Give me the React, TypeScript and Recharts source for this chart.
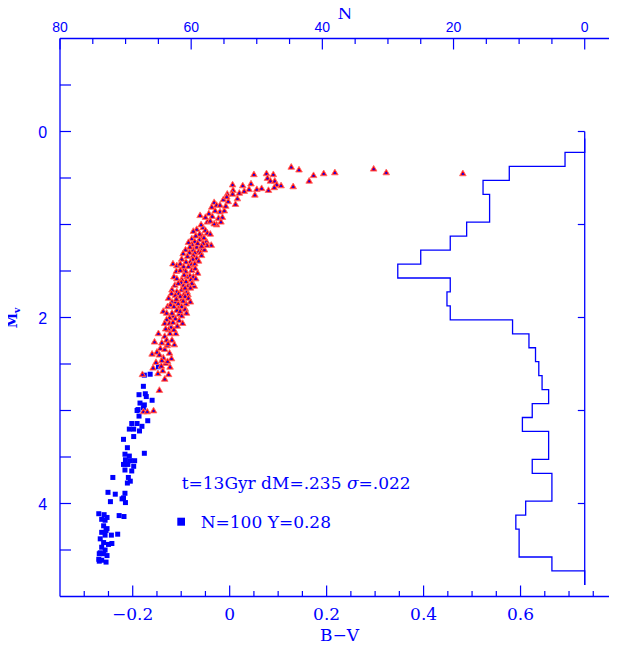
import React from "react";
import { ScatterChart, Scatter, XAxis, YAxis, ReferenceLine } from "recharts";

const BLUE = "#0000ff";
const RED = "#ff0000";
const SERIF = "'DejaVu Serif', serif";
const SANS = "'Liberation Sans', Arial, sans-serif";

// main-sequence stars [B-V, Mv]
const MS_STARS: [number, number][] = [
  [-0.176, 2.62], [-0.164, 2.61], [-0.147, 2.53], [-0.178, 2.74],
  [-0.187, 2.83], [-0.174, 2.82], [-0.172, 2.85], [-0.16, 2.89],
  [-0.185, 2.92], [-0.176, 2.94], [-0.189, 2.99], [-0.191, 3.0], [-0.178, 2.97],
  [-0.187, 3.06], [-0.169, 3.11], [-0.202, 3.14], [-0.191, 3.14], [-0.181, 3.17],
  [-0.207, 3.2], [-0.198, 3.2], [-0.186, 3.22], [-0.198, 3.28], [-0.219, 3.31],
  [-0.211, 3.4], [-0.176, 3.46], [-0.216, 3.47], [-0.207, 3.49],
  [-0.215, 3.53], [-0.196, 3.54], [-0.205, 3.54], [-0.219, 3.58], [-0.21, 3.58],
  [-0.198, 3.6], [-0.216, 3.64], [-0.202, 3.65], [-0.241, 3.72], [-0.209, 3.72],
  [-0.205, 3.76], [-0.211, 3.78], [-0.251, 3.88], [-0.236, 3.9], [-0.216, 3.89],
  [-0.219, 3.94], [-0.222, 3.95], [-0.215, 3.99], [-0.246, 3.98],
  [-0.27, 4.11], [-0.259, 4.12], [-0.253, 4.15], [-0.264, 4.17], [-0.257, 4.18],
  [-0.228, 4.13], [-0.218, 4.14], [-0.26, 4.24], [-0.253, 4.27], [-0.255, 4.29],
  [-0.264, 4.31], [-0.257, 4.34], [-0.244, 4.34], [-0.231, 4.33],
  [-0.267, 4.38], [-0.26, 4.42], [-0.25, 4.44], [-0.243, 4.43],
  [-0.264, 4.47], [-0.257, 4.5], [-0.267, 4.53], [-0.26, 4.54], [-0.253, 4.56],
  [-0.269, 4.54], [-0.27, 4.6], [-0.264, 4.61], [-0.255, 4.63], [-0.269, 4.62],
];

// subgiant / turnoff stars [B-V, Mv]
const EVOLVED_STARS: [number, number][] = [
  [0.127, 0.38], [0.143, 0.41], [0.173, 0.47], [0.194, 0.45], [0.217, 0.44],
  [0.164, 0.53], [0.297, 0.4], [0.323, 0.44], [0.481, 0.45],
  [0.05, 0.46], [0.076, 0.45], [0.09, 0.46], [0.078, 0.5], [0.084, 0.53],
  [0.093, 0.53], [0.097, 0.57], [0.106, 0.58], [0.092, 0.6], [0.131, 0.59], [0.08, 0.63],
  [0.044, 0.56], [0.027, 0.58], [0.006, 0.57], [0.04, 0.62], [0.056, 0.62],
  [0.066, 0.61], [0.052, 0.68], [0.007, 0.63], [-0.005, 0.67], [0.006, 0.67],
  [-0.013, 0.73], [-0.003, 0.75], [0.016, 0.72], [-0.032, 0.76], [-0.027, 0.79],
  [-0.037, 0.81], [-0.02, 0.86], [-0.011, 0.85], [-0.061, 0.9], [-0.043, 0.88],
  [-0.036, 0.91], [-0.023, 0.93], [-0.015, 0.92], [-0.046, 0.97], [-0.027, 1.0],
  [-0.032, 0.99], [-0.068, 1.05], [-0.055, 1.03], [-0.05, 1.06], [-0.046, 1.09],
  [-0.057, 1.12], [-0.075, 1.07], [-0.059, 1.0], [-0.04, 1.1],
  [-0.006, 0.7], [0.02, 0.66], [0.03, 0.64], [-0.02, 0.79], [-0.008, 0.8],
  [-0.03, 0.85], [-0.05, 0.92], [-0.04, 0.96], [-0.018, 0.97], [0.012, 0.78],
  [-0.078, 1.15], [-0.072, 1.18], [-0.062, 1.16], [-0.048, 1.18], [-0.038, 1.22],
  [-0.047, 1.22], [-0.055, 1.2], [-0.078, 1.21], [-0.068, 1.24], [-0.06, 1.26],
  [-0.075, 1.27], [-0.064, 1.29], [-0.091, 1.27], [-0.082, 1.24], [-0.052, 1.27],
  [-0.062, 1.1], [-0.07, 1.12], [-0.053, 1.14], [-0.066, 1.2], [-0.085, 1.19],
  [-0.058, 1.23], [-0.072, 1.3], [-0.083, 1.3], [-0.096, 1.31], [-0.06, 1.3],
  [-0.075, 1.33], [-0.068, 1.36], [-0.076, 1.37], [-0.064, 1.39], [-0.099, 1.37],
  [-0.087, 1.34], [-0.058, 1.33], [-0.117, 1.42], [-0.109, 1.44], [-0.102, 1.42],
  [-0.081, 1.4], [-0.09, 1.4], [-0.079, 1.43], [-0.093, 1.48], [-0.11, 1.5],
  [-0.095, 1.45], [-0.102, 1.49], [-0.072, 1.42], [-0.085, 1.45], [-0.078, 1.49],
  [-0.071, 1.47], [-0.091, 1.5], [-0.082, 1.55], [-0.075, 1.56], [-0.088, 1.56],
  [-0.066, 1.52], [-0.115, 1.56], [-0.109, 1.58], [-0.099, 1.59], [-0.094, 1.54],
  [-0.07, 1.58], [-0.08, 1.59], [-0.1, 1.62], [-0.113, 1.65], [-0.073, 1.66],
  [-0.106, 1.63], [-0.095, 1.65], [-0.085, 1.65], [-0.078, 1.63], [-0.09, 1.61],
  [-0.119, 1.7], [-0.109, 1.72], [-0.099, 1.7], [-0.088, 1.72], [-0.081, 1.68],
  [-0.092, 1.68], [-0.105, 1.74], [-0.12, 1.74], [-0.086, 1.75], [-0.098, 1.8],
  [-0.094, 1.75], [-0.102, 1.77], [-0.092, 1.77], [-0.085, 1.79], [-0.112, 1.76],
  [-0.126, 1.79], [-0.119, 1.83], [-0.112, 1.83], [-0.106, 1.85], [-0.081, 1.83],
  [-0.11, 1.8], [-0.09, 1.85], [-0.128, 1.88], [-0.106, 1.9], [-0.116, 1.98],
  [-0.096, 1.82], [-0.099, 1.88], [-0.092, 1.9], [-0.122, 1.86], [-0.115, 1.88],
  [-0.109, 1.92], [-0.104, 1.96], [-0.137, 1.93], [-0.13, 1.95], [-0.119, 1.95],
  [-0.099, 1.98], [-0.102, 1.93], [-0.092, 1.91], [-0.124, 2.0], [-0.112, 2.01],
  [-0.089, 1.95], [-0.13, 2.02], [-0.104, 2.03], [-0.121, 2.1], [-0.111, 2.17],
  [-0.134, 2.06], [-0.124, 2.06], [-0.117, 2.05], [-0.097, 2.06], [-0.108, 2.09],
  [-0.126, 2.13], [-0.123, 2.17], [-0.147, 2.17], [-0.115, 2.13], [-0.132, 2.12],
  [-0.134, 2.2], [-0.13, 2.24], [-0.119, 2.24], [-0.114, 2.29], [-0.14, 2.27],
  [-0.155, 2.26], [-0.143, 2.33], [-0.134, 2.34], [-0.129, 2.3], [-0.127, 2.28],
  [-0.124, 2.38], [-0.16, 2.39], [-0.15, 2.37], [-0.137, 2.43], [-0.14, 2.46],
  [-0.145, 2.4], [-0.132, 2.49], [-0.12, 2.44], [-0.152, 2.48], [-0.138, 2.57],
  [-0.128, 2.47], [-0.158, 2.54], [-0.123, 2.53], [-0.141, 2.52],
  [-0.18, 2.61], [-0.148, 2.6], [-0.126, 2.61], [-0.134, 2.66], [-0.145, 2.78],
  [-0.178, 3.01], [-0.17, 3.01], [-0.157, 3.0],
];

// Mv histogram (top axis N): lower bin edge and count
const HIST_EDGES = [
  0.075, 0.225, 0.375, 0.525, 0.675, 0.825, 0.975, 1.125, 1.275, 1.425, 1.575,
  1.725, 1.875, 2.025, 2.175, 2.325, 2.475, 2.625, 2.775, 2.925, 3.075, 3.225,
  3.375, 3.525, 3.675, 3.825, 3.975, 4.125, 4.275, 4.425, 4.575, 4.725,
];
const HIST_COUNTS = [
  0, 3, 11.5, 15.5, 14.5, 14.5, 18, 20.5, 25, 28.5, 20.5, 21, 20.5, 11, 8.5,
  7.5, 7, 6.5, 5.5, 8, 9.5, 5.5, 5.5, 8, 5, 5, 9, 10.5, 10, 10, 5, 0,
];
const HIST_BIN = 0.15;
const HIST_BASE_TICKS = [0, 1, 2, 3, 4];

const BV_TICKS = [
  -0.3, -0.25, -0.2, -0.15, -0.1, -0.05, 0, 0.05, 0.1, 0.15, 0.2, 0.25, 0.3,
  0.35, 0.4, 0.45, 0.5, 0.55, 0.6, 0.65, 0.7, 0.75,
];
const BV_LABELS = [-0.2, 0, 0.2, 0.4, 0.6];
const N_TICKS = [80, 75, 70, 65, 60, 55, 50, 45, 40, 35, 30, 25, 20, 15, 10, 5, 0];
const N_LABELS = [80, 60, 40, 20, 0];
const MV_TICKS = [-0.5, 0, 0.5, 1, 1.5, 2, 2.5, 3, 3.5, 4, 4.5];
const MV_LABELS = [0, 2, 4];

const near = (v: number, list: number[]) => list.some((b) => Math.abs(v - b) < 1e-6);
const fmtBV = (v: number) =>
  Math.abs(v) < 1e-9 ? "0" : (v < 0 ? "\u2212" : "") + Math.abs(v).toFixed(1);

function BottomTick(props: any) {
  const { x, y, payload } = props;
  const major = near(payload.value, BV_LABELS);
  return (
    <g>
      <line x1={x} y1={y} x2={x} y2={y - (major ? 11 : 5.5)} stroke={BLUE} strokeWidth={1.2} />
      {major && (
        <text x={x} y={y + 23.5} textAnchor="middle" fill={BLUE} fontFamily={SERIF} fontSize={17}>
          {fmtBV(payload.value)}
        </text>
      )}
    </g>
  );
}

function TopTick(props: any) {
  const { x, y, payload } = props;
  const major = near(payload.value, N_LABELS);
  return (
    <g>
      <line x1={x} y1={y} x2={x} y2={y + (major ? 11 : 5.5)} stroke={BLUE} strokeWidth={1.2} />
      {major && (
        <text x={x} y={y - 7} textAnchor="middle" fill={BLUE} fontFamily={SANS} fontSize={14}>
          {payload.value}
        </text>
      )}
    </g>
  );
}

function LeftTick(props: any) {
  const { x, y, payload } = props;
  return (
    <g>
      <line x1={x} y1={y} x2={x + 11} y2={y} stroke={BLUE} strokeWidth={1.2} />
      {near(payload.value, MV_LABELS) && (
        <text x={x - 12.8} y={y + 6} textAnchor="end" fill={BLUE} fontFamily={SANS} fontSize={16}>
          {payload.value}
        </text>
      )}
    </g>
  );
}

function RightTick(props: any) {
  const { x, y, payload } = props;
  const major = near(payload.value, MV_LABELS);
  return <line x1={x} y1={y} x2={x - (major ? 12 : 5)} y2={y} stroke={BLUE} strokeWidth={1.2} />;
}

const Triangle = (p: any) => (
  <g>
    <polygon
      points={`${p.cx - 3.3},${p.cy + 2.4} ${p.cx + 3.3},${p.cy + 2.4} ${p.cx},${p.cy - 3.3}`}
      fill={RED}
      stroke="#ff6a6a"
      strokeWidth={0.9}
      strokeLinejoin="round"
    />
    <rect x={p.cx - 0.9} y={p.cy - 0.3} width={1.8} height={1.8} fill={BLUE} />
  </g>
);

const Square = (p: any) => (
  <rect x={p.cx - 2.5} y={p.cy - 2.5} width={5} height={5} fill={BLUE} />
);

export default function App() {
  const msData = MS_STARS.map(([bv, mv]) => ({ bv, mv }));
  const evData = EVOLVED_STARS.map(([bv, mv]) => ({ bv, mv }));

  // step outline of the histogram
  const histData: { n: number; mv: number }[] = [];
  HIST_EDGES.forEach((lo, i) => {
    histData.push({ n: HIST_COUNTS[i], mv: lo });
    histData.push({ n: HIST_COUNTS[i], mv: lo + HIST_BIN });
  });
  const histTop = HIST_EDGES[HIST_EDGES.length - 1] + HIST_BIN;

  return (
    <div style={{ position: "relative", width: 609, height: 637 }}>
      <style>{"html,body{overflow:hidden}"}</style>
      <ScatterChart width={620} height={637} margin={{ top: 0, right: 0, bottom: 0, left: 0 }}>
        <XAxis
          xAxisId="bv"
          dataKey="bv"
          type="number"
          orientation="bottom"
          domain={[-0.35, 0.8]}
          ticks={BV_TICKS}
          interval={0}
          height={48.5}
          tickSize={0}
          tickMargin={0}
          tickLine={false}
          axisLine={{ stroke: BLUE, strokeWidth: 1.3 }}
          tick={BottomTick}
        />
        <XAxis
          xAxisId="n"
          dataKey="n"
          type="number"
          orientation="top"
          domain={[-5, 80]}
          reversed
          ticks={N_TICKS}
          interval={0}
          height={30.5}
          tickSize={0}
          tickMargin={0}
          tickLine={false}
          axisLine={{ stroke: BLUE, strokeWidth: 1.3 }}
          tick={TopTick}
        />
        <YAxis
          yAxisId="mv"
          dataKey="mv"
          type="number"
          orientation="left"
          domain={[-1, 5]}
          reversed
          ticks={MV_TICKS}
          interval={0}
          width={52}
          tickSize={0}
          tickMargin={0}
          tickLine={false}
          axisLine={{ stroke: BLUE, strokeWidth: 1.3 }}
          tick={LeftTick}
        />
        <YAxis
          yAxisId="r"
          type="number"
          orientation="right"
          domain={[-1, 5]}
          reversed
          ticks={MV_TICKS}
          interval={0}
          width={10.5}
          tickSize={0}
          tickMargin={0}
          tickLine={false}
          axisLine={{ stroke: BLUE, strokeWidth: 1.3 }}
          tick={RightTick}
        />
        <ReferenceLine
          xAxisId="n"
          yAxisId="mv"
          segment={[{ x: 0, y: 0 }, { x: 0, y: histTop }]}
          stroke={BLUE}
          strokeWidth={1.3}
        />
        {HIST_BASE_TICKS.map((m) => (
          <ReferenceLine
            key={m}
            xAxisId="n"
            yAxisId="mv"
            segment={[{ x: 0, y: m }, { x: 1.05, y: m }]}
            stroke={BLUE}
            strokeWidth={1.2}
          />
        ))}
        <Scatter
          xAxisId="n"
          yAxisId="mv"
          data={histData}
          line={{ stroke: BLUE, strokeWidth: 1.3 }}
          lineType="joint"
          shape={() => <g />}
          isAnimationActive={false}
        />
        <Scatter xAxisId="bv" yAxisId="mv" data={msData} shape={Square} isAnimationActive={false} />
        <Scatter xAxisId="bv" yAxisId="mv" data={evData} shape={Triangle} isAnimationActive={false} />
      </ScatterChart>
      <svg
        width={617}
        height={645}
        style={{ position: "absolute", left: -8, top: -8, pointerEvents: "none" }}
      >
        <g fill={BLUE} fontFamily={SERIF}>
          <text x={345} y={19.3} textAnchor="middle" fontSize={17}>N</text>
          <text x={339.5} y={641} textAnchor="middle" fontSize={17}>B{"\u2212"}V</text>
          <text
            transform="translate(17,318) rotate(-90)"
            textAnchor="middle"
            fontSize={14}
            fontWeight="bold"
          >
            M<tspan fontSize={9} dy={2.5}>v</tspan>
          </text>
          <text x={181.7} y={489.3} fontSize={17}>
            t=13Gyr dM=.235 <tspan fontStyle="italic">{"\u03c3"}</tspan>=.022
          </text>
          <rect x={177.3} y={517.7} width={7.7} height={8} />
          <text x={200.7} y={528.3} fontSize={17}>N=100 Y=0.28</text>
        </g>
      </svg>
    </div>
  );
}
